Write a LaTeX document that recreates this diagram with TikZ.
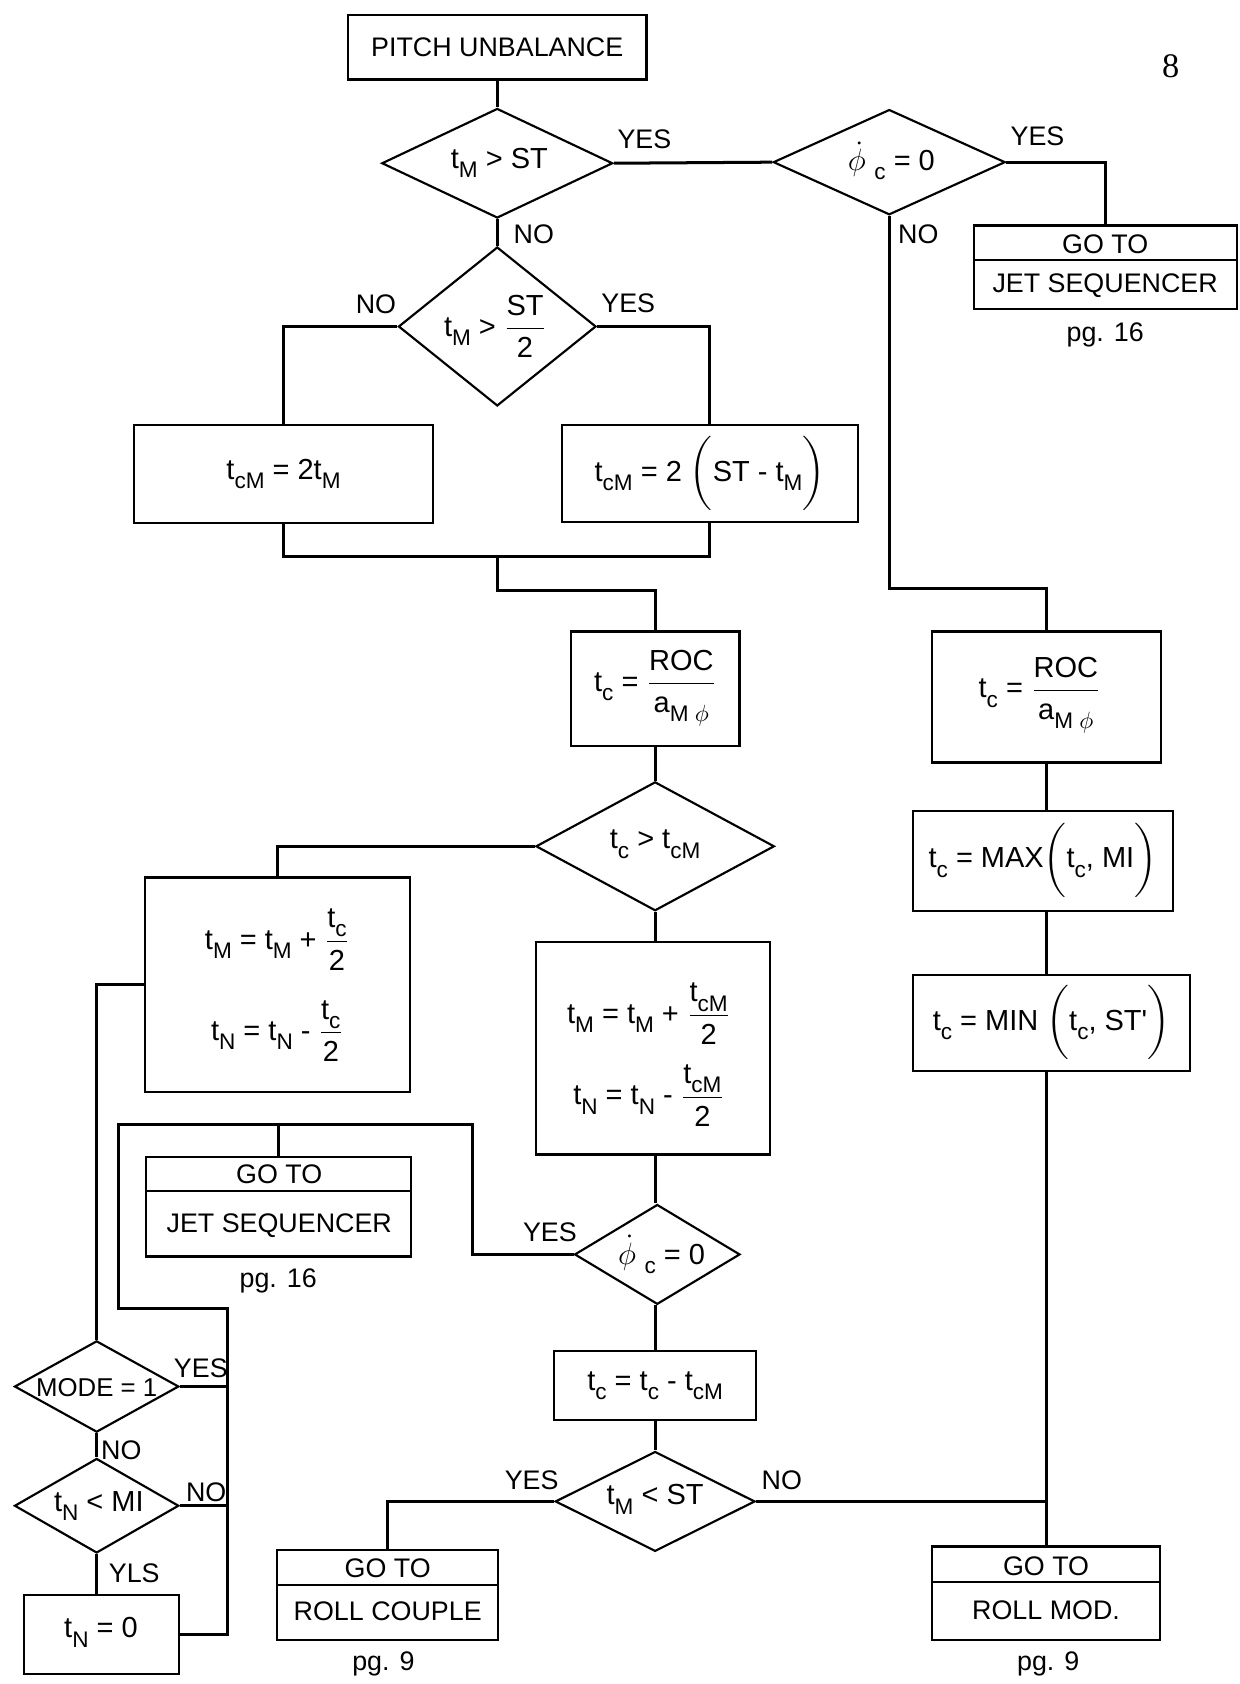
\documentclass[tikz,border=0pt]{standalone}
\usepackage{amsmath}
\usepackage{fontspec}
\setmainfont{Liberation Sans}
\newfontfamily\pgnumfont{Liberation Serif}
\usetikzlibrary{shapes.geometric}
\newcommand\sbs[1]{\raisebox{-0.6ex}{\fontsize{10.5}{11}\selectfont #1}}
\newcommand\fr[2]{$\dfrac{\mbox{#1}}{\mbox{#2}}$}
\newcommand\phidot{$\dot{\phi}$\kern4pt}
\begin{document}
\begin{tikzpicture}[x=0.5pt,y=-0.5pt,
  every node/.style={font=\fontsize{12.5}{15}\selectfont, inner sep=0pt},
  box/.style 2 args={draw, line width=1pt, rectangle, minimum width=#1, minimum height=#2},
  dia/.style 2 args={draw, line width=1pt, diamond, minimum width=#1, minimum height=#2},
  conn/.style={line width=1.4pt},
  lbl/.style={font=\fontsize{12.5}{15}\selectfont},
  big/.style={font=\fontsize{13.5}{16}\selectfont}]
\useasboundingbox (0,0) rectangle (1154,1568);

% page number
\node[font=\pgnumfont\fontsize{16}{18}\selectfont] (pgnum) at (1090,62) {8};

% ---------- nodes ----------
\node[box={139pt}{30pt}] (pitch) at (463,44) {PITCH UNBALANCE};

\node[dia={107.5pt}{51pt}] (d1) at (463,152) {};
\node[big] (d1t) at (465,152) {t\sbs{M} > ST};

\node[dia={108pt}{49pt}] (d2) at (828,151) {};
\node[big] (d2t) at (830,150) {\phidot\sbs{c} = 0};

\node[box={122.5pt}{39pt}] (js1) at (1029.5,249) {};
\draw[line width=1pt] (907,242) -- (1152,242);
\node (js1a) at (1029,227) {GO TO};
\node (js1b) at (1029,266) {JET SEQUENCER};
\node (js1p) at (1029,312) {pg. 16};

\node[dia={92pt}{74pt}] (d3) at (463,304) {};
\node[big] (d3t) at (461,304) {t\sbs{M} > \fr{ST}{2}};

\node[box={139pt}{45.5pt}] (l1) at (264,441.5) {};
\node[big] (l1t) at (264,441) {t\sbs{cM} = 2t\sbs{M}};

\node[box={138pt}{45pt}] (r1) at (661,441) {};
\node[big] (r1t) at (661,441) {t\sbs{cM} = 2 $\bigg($ST - t\sbs{M}$\bigg)$};

\node[box={78.5pt}{53.5pt}] (roc) at (610,641.5) {};
\node[big] (roct) at (610,641) {t\sbs{c} = \fr{ROC}{a\sbs{M $\phi$}}};

\node[dia={111pt}{60pt}] (d4) at (610,788) {};
\node[big] (d4t) at (610,786) {t\sbs{c} > t\sbs{cM}};

\node[box={123.5pt}{100pt}] (lb) at (258.5,917) {};
\node[big] (lbt1) at (258,875) {t\sbs{M} = t\sbs{M} + \fr{t\sbs{c}}{2}};
\node[big] (lbt2) at (258,960) {t\sbs{N} = t\sbs{N} - \fr{t\sbs{c}}{2}};

\node[box={109pt}{99pt}] (mb) at (608,976) {};
\node[big] (mbt1) at (604,944) {t\sbs{M} = t\sbs{M} + \fr{t\sbs{cM}}{2}};
\node[big] (mbt2) at (604,1020) {t\sbs{N} = t\sbs{N} - \fr{t\sbs{cM}}{2}};

\node[box={123.5pt}{46.5pt}] (js2) at (259.5,1123.5) {};
\draw[line width=1pt] (136,1109) -- (383,1109);
\node (js2a) at (260,1093) {GO TO};
\node (js2b) at (260,1141) {JET SEQUENCER};
\node (js2p) at (259,1193) {pg. 16};

\node[dia={77pt}{46.5pt}] (d5) at (612,1168) {};
\node[big] (d5t) at (616,1168) {\phidot\sbs{c} = 0};

\node[box={94pt}{32pt}] (tc) at (610,1290) {};
\node[big] (tct) at (610,1290) {t\sbs{c} = t\sbs{c} - t\sbs{cM}};

\node[dia={93pt}{46.5pt}] (d6) at (610,1398) {};
\node[big] (d6t) at (610,1396) {t\sbs{M} < ST};

\node[box={103pt}{42pt}] (rc) at (361,1485) {};
\draw[line width=1pt] (258,1476) -- (464,1476);
\node (rca) at (361,1460) {GO TO};
\node (rcb) at (361,1500) {ROLL COUPLE};
\node (rcp) at (357,1549) {pg. 9};

\node[box={106.5pt}{61pt}] (roc2) at (974.5,649) {};
\node[big] (roc2t) at (968,647) {t\sbs{c} = \fr{ROC}{a\sbs{M $\phi$}}};

\node[box={121pt}{46.5pt}] (max) at (971,801.5) {};
\node[big] (maxt) at (971,801) {t\sbs{c} = MAX$\bigg($t\sbs{c}, MI$\bigg)$};

\node[box={129pt}{44.5pt}] (min) at (979,952.5) {};
\node[big] (mint) at (979,952) {t\sbs{c} = MIN $\bigg($t\sbs{c}, ST\textquotesingle$\bigg)$};

\node[box={106pt}{43.5pt}] (rm) at (974,1483.5) {};
\draw[line width=1pt] (868,1473) -- (1080,1473);
\node (rma) at (974,1458) {GO TO};
\node (rmb) at (974,1499) {ROLL MOD.};
\node (rmp) at (976,1549) {pg. 9};

\node[dia={76.5pt}{42.5pt}] (d7) at (90,1291) {};
\node[font=\fontsize{12}{14}\selectfont] (d7t) at (90,1292) {MODE = 1};

\node[dia={76.5pt}{44pt}] (d8) at (90,1402) {};
\node[big] (d8t) at (92,1402) {t\sbs{N} < MI};

\node[box={72.5pt}{37pt}] (tn0) at (94.5,1522) {};
\node[big] (tn0t) at (94,1520) {t\sbs{N} = 0};

% ---------- connector coordinates ----------
\coordinate (k1) at (828,548);
\coordinate (k2) at (264,518);
\coordinate (k3) at (661,518);
\coordinate (k4) at (463,518);
\coordinate (k5) at (463,550);
\coordinate (k6) at (974,1398);
\coordinate (k7) at (440,1047);
\coordinate (k8) at (110,1047);
\coordinate (k9) at (110,1218);
\coordinate (k10) at (212,1218);
\coordinate (k11) at (212,1522);

% ---------- connectors ----------
\draw[conn] (pitch.south) -- (d1.north);
\draw[conn] (d1.east) -- (d2.west);
\draw[conn] (d2.east) -| (js1.north);
\draw[conn] (d2.south) -- (k1) -| (roc2.north);
\draw[conn] (d1.south) -- (d3.north);
\draw[conn] (d3.west) -| (l1.north);
\draw[conn] (d3.east) -| (r1.north);
\draw[conn] (l1.south) -- (k2) -- (k3) -- (r1.south);
\draw[conn] (k4) -- (k5) -| (roc.north);
\draw[conn] (roc.south) -- (d4.north);
\draw[conn] (d4.west) -| (lb.north);
\draw[conn] (d4.south) -- (d4.south |- mb.north);
\draw[conn] (mb.south -| d4.south) -- (d5.north -| d4.south);
\draw[conn] (d5.south -| d4.south) -- (tc.north);
\draw[conn] (tc.south) -- (d6.north);
\draw[conn] (d6.west) -| (rc.north);
\draw[conn] (roc2.south) -- (max.north -| roc2.south);
\draw[conn] (max.south -| roc2.south) -- (min.north -| roc2.south);
\draw[conn] (min.south -| roc2.south) -- (rm.north -| roc2.south);
\draw[conn] (d6.east) -- (k6);
\draw[conn] (d5.west) -| (k7) -- (k8) -- (k9) -- (k10) -- (k11) -- (tn0.east);
\draw[conn] (js2.north) -- (js2.north |- k7);
\draw[conn] (d7.east) -- (d7.east -| k10);
\draw[conn] (d8.east) -- (d8.east -| k10);
\draw[conn] (lb.west) -| (d7.north);
\draw[conn] (d7.south) -- (d8.north);
\draw[conn] (d8.south) -- (d8.south |- tn0.north);

% ---------- branch labels ----------
\node[lbl] (y1) at (600,130) {YES};
\node[lbl] (n1) at (497,218) {NO};
\node[lbl] (y2) at (966,127) {YES};
\node[lbl] (n2) at (855,218) {NO};
\node[lbl] (n3) at (350,283) {NO};
\node[lbl] (y3) at (585,282) {YES};
\node[lbl] (y5) at (512,1147) {YES};
\node[lbl] (y7) at (187,1274) {YES};
\node[lbl] (n7) at (113,1350) {NO};
\node[lbl] (n8) at (192,1389) {NO};
\node[lbl] (y8) at (125,1465) {YLS};
\node[lbl] (y6) at (495,1378) {YES};
\node[lbl] (n6) at (728,1378) {NO};
\end{tikzpicture}
\end{document}
